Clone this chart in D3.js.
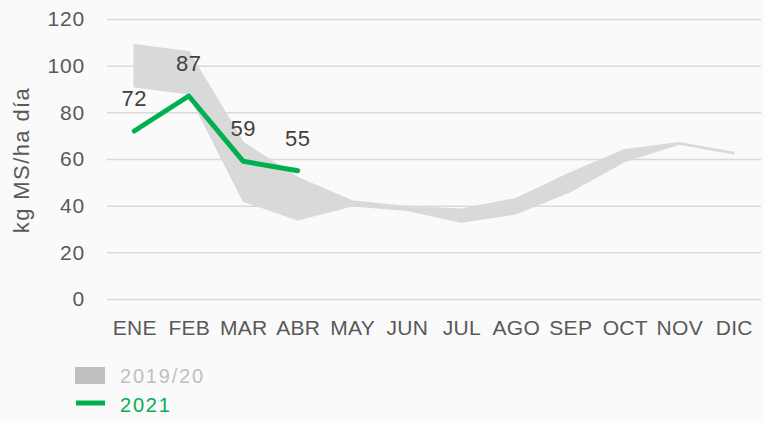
<!DOCTYPE html>
<html>
<head>
<meta charset="utf-8">
<script src="https://cdn.jsdelivr.net/npm/d3@7"></script>
<style>
  body { margin: 0; background: #fafafa; }
  svg { font-family: "Liberation Sans", Arial, sans-serif; }
</style>
</head>
<body>
<div id="chart"></div>
<script>
// meses
var meses = ["ENE","FEB","MAR","ABR","MAY","JUN","JUL","AGO","SEP","OCT","NOV","DIC"];
// banda 2019/20 (max y min)
var banda_max = [109, 106, 67, 52, 42, 39.5, 38.5, 43, 54, 64, 67, 62.8];
var banda_min = [91, 88, 42, 34, 40, 38, 33, 36.5, 46, 59, 66.4, 62.2];
// 2021
var serie_2021 = [72, 87, 59, 55];
var y_ticks = [0, 20, 40, 60, 80, 100, 120];

var W = 764, H = 423;
var margin = {top: 19, right: 3, bottom: 124, left: 107},
    width = W - margin.left - margin.right,
    height = H - margin.top - margin.bottom;

var svg = d3.select("#chart").append("svg")
    .attr("width", W).attr("height", H)
    .style("background", "#fafafa");

var g = svg.append("g")
    .attr("transform", "translate(" + margin.left + "," + margin.top + ")");

var x = d3.scalePoint().domain(meses).range([0, width]).padding(0.5);
var y = d3.scaleLinear().domain([0, 120]).range([height, 0]);

// grilla + eje y
var yAxis = g.append("g")
    .call(d3.axisLeft(y).tickValues(y_ticks).tickSize(-width).tickPadding(22));
yAxis.select(".domain").remove();
yAxis.selectAll("line").attr("stroke", "#d9d9d9").attr("stroke-width", 1.5);
yAxis.selectAll("text").attr("fill", "#595959")
    .style("font-size", "21px").style("letter-spacing", "0.8px");

// eje x
var xAxis = g.append("g")
    .attr("transform", "translate(0," + height + ")")
    .call(d3.axisBottom(x).tickSize(0).tickPadding(21));
xAxis.select(".domain").remove();
xAxis.selectAll("text").attr("fill", "#595959")
    .style("font-size", "21px").style("letter-spacing", "0.3px");

// titulo eje y
svg.append("text")
    .attr("transform", "translate(29," + 160 + ") rotate(-90)")
    .attr("text-anchor", "middle")
    .attr("fill", "#595959")
    .style("font-size", "22px")
    .style("letter-spacing", "1.4px")
    .text("kg MS/ha día");

// banda 2019/20
var area = d3.area()
    .x(function(d, i) { return x(meses[i]); })
    .y0(function(d, i) { return y(banda_min[i]); })
    .y1(function(d) { return y(d); });

g.append("path")
    .datum(banda_max)
    .attr("d", area)
    .attr("fill", "#d9d9d9")
    .attr("stroke", "#d9d9d9")
    .attr("stroke-width", 1.5)
    .attr("stroke-linejoin", "round");

// linea 2021
var line = d3.line()
    .x(function(d, i) { return x(meses[i]); })
    .y(function(d) { return y(d); });

g.append("path")
    .datum(serie_2021)
    .attr("d", line)
    .attr("fill", "none")
    .attr("stroke", "#00b050")
    .attr("stroke-width", 5)
    .attr("stroke-linecap", "round")
    .attr("stroke-linejoin", "round");

g.selectAll(".etiqueta")
    .data(serie_2021)
    .enter().append("text")
    .attr("class", "etiqueta")
    .attr("x", function(d, i) { return x(meses[i]); })
    .attr("y", function(d) { return y(d) - 25; })
    .attr("text-anchor", "middle")
    .attr("fill", "#404040")
    .style("font-size", "22px")
    .style("letter-spacing", "0.5px")
    .text(function(d) { return d; });

// leyenda
var ley = svg.append("g");
ley.append("rect")
    .attr("x", 75).attr("y", 367).attr("width", 30).attr("height", 17)
    .attr("fill", "#bfbfbf");
ley.append("text")
    .attr("x", 120).attr("y", 383)
    .attr("fill", "#bfbfbf").style("font-size", "20px")
    .style("letter-spacing", "1.8px")
    .text("2019/20");
ley.append("line")
    .attr("x1", 76).attr("x2", 105).attr("y1", 403).attr("y2", 403)
    .attr("stroke", "#00b050").attr("stroke-width", 5);
ley.append("text")
    .attr("x", 120).attr("y", 412)
    .attr("fill", "#00b050").style("font-size", "20px")
    .style("letter-spacing", "1.8px")
    .text("2021");
</script>
</body>
</html>
